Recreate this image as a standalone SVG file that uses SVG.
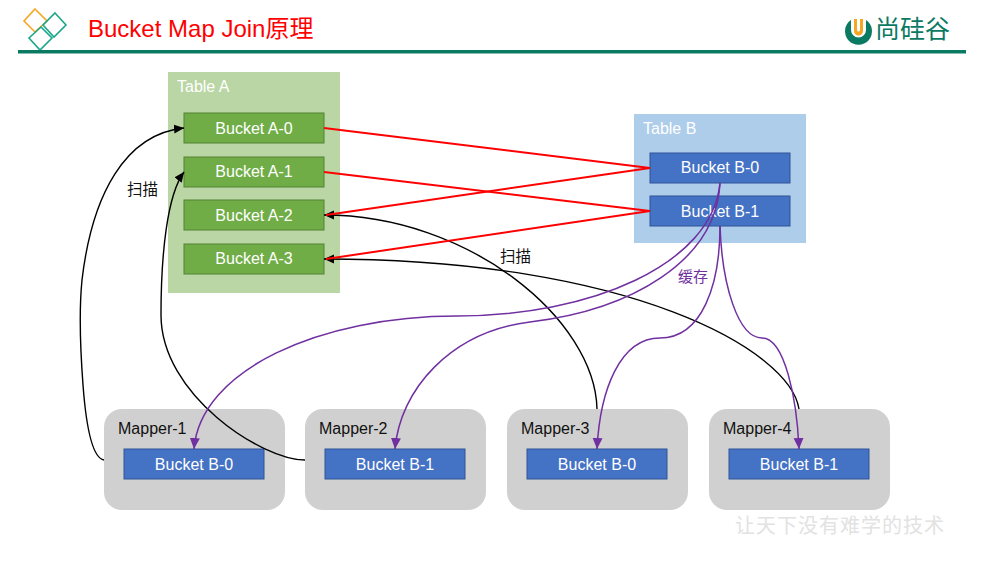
<svg xmlns="http://www.w3.org/2000/svg" width="989" height="566" viewBox="0 0 989 566">
<style>
text{font-family:"Liberation Sans","Noto Sans CJK SC",sans-serif;font-size:16px}
.w{fill:#fff}.c{text-anchor:middle}.k{fill:#111}
.g{fill:#70ad47;stroke:#548235;stroke-width:1}
.b{fill:#4472c4;stroke:#2f5597;stroke-width:1}
.m{fill:#d0d0d0}
.r{fill:none;stroke:#f00;stroke-width:2}
.a{fill:none;stroke:#000;stroke-width:1.4}
.p{fill:none;stroke:#7030a0;stroke-width:1.5}
</style>
<defs>
<marker id="ak" markerUnits="userSpaceOnUse" markerWidth="12" markerHeight="10" refX="10" refY="4.5" orient="auto"><path d="M0,0L10,4.5L0,9z" fill="#000"/></marker>
<marker id="ap" markerUnits="userSpaceOnUse" markerWidth="13" markerHeight="11" refX="11" refY="5" orient="auto"><path d="M0,0L11,5L0,10z" fill="#7030a0"/></marker>
</defs>
<g id="header">
<path d="M35,9L47,21L35,32L24,21z" fill="none" stroke="#f5a623" stroke-width="1.6"/>
<path d="M55,13L66,25L54,37L43,25z" fill="none" stroke="#1aa68a" stroke-width="1.6"/>
<path d="M41,27L52,38L40,50L29,38z" fill="none" stroke="#1aa68a" stroke-width="1.6"/>
<rect x="18" y="50" width="948" height="3.5" fill="#0b7a63"/>
<text x="88" y="37" fill="#f00" style="font-size:24px">Bucket Map Join原理</text>
<path d="M851,20A13.5,13.5 0 1,0 866,20L866,30A7,7 0 0,1 851,30z" fill="#0b7a63"/>
<path d="M854,19h3v11a1.5,1.5 0 0,0 3,0v-11h3v12a4.5,4.5 0 0,1 -9,0z" fill="#f5a623"/>
<text x="875" y="38" fill="#0b7a63" style="font-size:25px;letter-spacing:0">尚硅谷</text>
</g>
<g id="table-a"><rect x="168" y="72" width="172" height="221" fill="#b9d6a4"/><text class="w" x="177" y="92">Table A</text></g>
<g id="table-b"><rect x="634" y="114" width="172" height="129" fill="#aecdea"/><text class="w" x="643" y="134">Table B</text></g>
<g id="bucket-a-0"><rect class="g" x="184" y="113" width="140" height="30"/><text class="w c" x="254" y="134">Bucket A-0</text></g>
<g id="bucket-a-1"><rect class="g" x="184" y="157" width="140" height="30"/><text class="w c" x="254" y="177">Bucket A-1</text></g>
<g id="bucket-a-2"><rect class="g" x="184" y="200" width="140" height="30"/><text class="w c" x="254" y="221">Bucket A-2</text></g>
<g id="bucket-a-3"><rect class="g" x="184" y="244" width="140" height="30"/><text class="w c" x="254" y="264">Bucket A-3</text></g>
<g id="bucket-b-0"><rect class="b" x="650" y="153" width="140" height="30"/><text class="w c" x="720" y="173">Bucket B-0</text></g>
<g id="bucket-b-1"><rect class="b" x="650" y="196" width="140" height="30"/><text class="w c" x="720" y="217">Bucket B-1</text></g>
<g id="mapper-1"><rect class="m" x="104" y="409" width="181" height="101" rx="18"/><text class="k" x="118" y="434">Mapper-1</text><rect class="b" x="124" y="449" width="140" height="30"/><text class="w c" x="194" y="470">Bucket B-0</text></g>
<g id="mapper-2"><rect class="m" x="305" y="409" width="181" height="101" rx="18"/><text class="k" x="319" y="434">Mapper-2</text><rect class="b" x="325" y="449" width="140" height="30"/><text class="w c" x="395" y="470">Bucket B-1</text></g>
<g id="mapper-3"><rect class="m" x="507" y="409" width="181" height="101" rx="18"/><text class="k" x="521" y="434">Mapper-3</text><rect class="b" x="527" y="449" width="140" height="30"/><text class="w c" x="597" y="470">Bucket B-0</text></g>
<g id="mapper-4"><rect class="m" x="709" y="409" width="181" height="101" rx="18"/><text class="k" x="723" y="434">Mapper-4</text><rect class="b" x="729" y="449" width="140" height="30"/><text class="w c" x="799" y="470">Bucket B-1</text></g>
<g id="connectors">
<path class="r" d="M324,128L650,168"/>
<path class="r" d="M324,172L650,211"/>
<path class="a" marker-end="url(#ak)" d="M104,460C92,458 86,425 83,385C80,345 79,310 82,280C92,195 125,134 184,128"/>
<path class="a" marker-end="url(#ak)" d="M305,460C262,460 161,395 161,315C161,255 167,195 184,172"/>
<path class="a" marker-end="url(#ak)" d="M597,409C595,320 470,215 324,215"/>
<path class="a" marker-end="url(#ak)" d="M799,409C790,350 630,259 324,259"/>
<path class="r" d="M650,168L326,215"/>
<path class="r" d="M650,211L326,259"/>
<path class="p" marker-end="url(#ap)" d="M720,183C712,265 590,316 457,316C320,316 200,370 194,449"/>
<path class="p" marker-end="url(#ap)" d="M720,183C716,262 630,310 530,322C450,332 400,390 395,449"/>
<path class="p" marker-end="url(#ap)" d="M720,226C720,285 702,338 660,338C620,338 600,390 597,449"/>
<path class="p" marker-end="url(#ap)" d="M720,226C722,285 738,338 762,338C785,338 797,400 799,449"/>
</g>
<text class="k" x="127" y="195" style="font-size:15.5px">扫描</text>
<text class="k" x="500" y="262" style="font-size:15.5px">扫描</text>
<text x="678" y="282" fill="#7030a0" style="font-size:15px">缓存</text>
<text x="735" y="533" fill="#e2e2e2" style="font-size:20px;letter-spacing:1px">让天下没有难学的技术</text>
</svg>
